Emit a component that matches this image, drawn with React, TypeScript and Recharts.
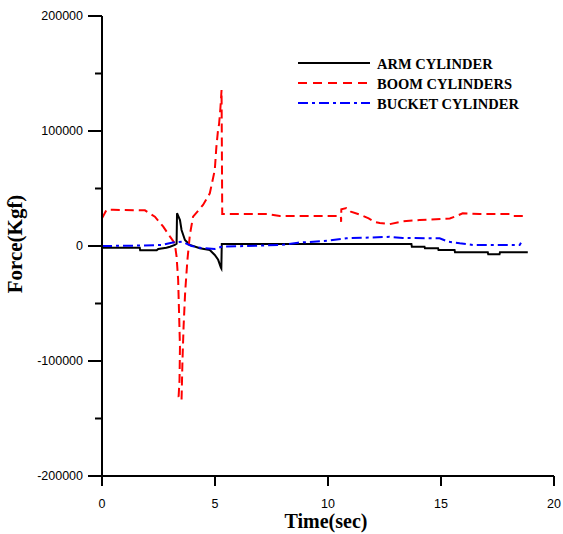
import { LineChart, Line, XAxis, YAxis, Legend } from "recharts";

// values (time in sec, force in kgf)
const armTime = [
  0, 1.67, 1.69, 2.42, 2.49, 2.85, 3.01, 3.22, 3.3, 3.32, 3.45, 3.52, 3.67,
  3.89, 4.33, 4.77, 4.99, 5.14, 5.26, 5.28, 5.3, 13.69, 13.71, 14.27, 14.29,
  14.87, 14.89, 15.6, 15.62, 17.07, 17.09, 17.59, 17.61, 18.84,
];
const armForce = [
  -1500, -1500, -3800, -3800, -2600, -1500, -600, 900, 2000, 28500, 22600,
  13900, 5200, 900, -2000, -3500, -7800, -12000, -18800, -19500, 1800, 1800,
  -600, -600, -2000, -2000, -3500, -3500, -5500, -5500, -7200, -7200, -5500,
  -5500,
];

const boomTime = [
  0, 0.2, 0.49, 1.9, 2.34, 2.71, 3.01, 3.22, 3.3, 3.37, 3.41, 3.45, 3.43,
  3.39, 3.52, 3.56, 3.61, 3.68, 3.78, 3.89, 4.03, 4.47, 4.77, 4.99, 5.06, 5.13,
  5.18, 5.24, 5.29, 5.32, 7.32, 7.87, 10.57, 10.58, 10.59, 10.82, 11.01, 11.45,
  11.8, 12.06, 12.29, 12.73, 13.32, 14.06, 15.39, 15.68, 15.96, 16.71, 18.03,
  18.17, 18.83,
];
const boomForce = [
  24000, 31500, 31500, 31000, 25500, 16800, 8100, 2300, -9300, -29600, -58300,
  -87600, -116500, -131000, -134000, -100000, -70000, -40000, -12000, 10000,
  25500, 35700, 45800, 66000, 86000, 100000, 106000, 120000, 135700, 27800,
  27800, 26000, 26000, 21000, 32000, 33000, 29800, 27000, 24000, 21000, 20000,
  19000, 21500, 22600, 24000, 26000, 28500, 27800, 27800, 26000, 26000,
];

const bucketTime = [
  0, 1.47, 2.63, 3.08, 3.54, 3.96, 4.4, 4.99, 5.29, 6.39, 7.94, 8.67, 10.0,
  10.82, 12.72, 13.31, 14.94, 15.31, 15.83, 16.42, 18.48, 18.54,
];
const bucketForce = [
  0, 300, 900, 2900, 3800, 0, -1700, -2600, -600, 0, 900, 2900, 4600, 6700,
  8000, 7000, 6700, 3800, 2300, 900, 900, 2900,
];

const xTicks = [0, 5, 10, 15, 20];
const yTicks = [-200000, -150000, -100000, -50000, 0, 50000, 100000, 150000, 200000];
const yLabelTicks = [-200000, -100000, 0, 100000, 200000];

const toPoints = (time: number[], force: number[]) =>
  time.map((t, i) => ({ t, f: force[i] }));

const series = [
  { name: "ARM CYLINDER", color: "#000000", dash: undefined, legendDash: undefined, data: toPoints(armTime, armForce) },
  { name: "BOOM CYLINDERS", color: "#ff0000", dash: "9 5", legendDash: "9 6", data: toPoints(boomTime, boomForce) },
  { name: "BUCKET CYLINDER", color: "#0000ff", dash: "10 4 3 4", legendDash: "10 4 3 4", data: toPoints(bucketTime, bucketForce) },
];

const SANS = "'Liberation Sans', Arial, sans-serif";
const SERIF = "'Liberation Serif', 'Times New Roman', serif";
const Y_TICK_SIZE = 14;
const Y_TICK_MARGIN = 5;

function YTick(props: any) {
  const { x, y, payload } = props;
  const major = yLabelTicks.includes(payload.value);
  const axisX = x + Y_TICK_SIZE + Y_TICK_MARGIN;
  return (
    <g>
      <line
        x1={axisX - (major ? Y_TICK_SIZE : 7)}
        x2={axisX}
        y1={y}
        y2={y}
        stroke="#000"
        strokeWidth={2}
      />
      {major && (
        <text x={x} y={y} dy="0.35em" textAnchor="end" fill="#000" fontSize={12.5} fontFamily={SANS}>
          {payload.value}
        </text>
      )}
    </g>
  );
}

function LegendBox() {
  return (
    <svg width={240} height={62}>
      {series.map((s, i) => (
        <g key={s.name}>
          <line x1={0} x2={72} y1={8 + i * 20} y2={8 + i * 20} stroke={s.color} strokeWidth={2} strokeDasharray={s.legendDash} />
          <text x={79} y={14 + i * 20} fontSize={14.5} fontWeight="bold" fontFamily={SERIF} fill="#000">
            {s.name}
          </text>
        </g>
      ))}
    </svg>
  );
}

export default function App() {
  return (
    <div style={{ position: "absolute", left: 0, top: 0, width: 563, height: 534, background: "#fff" }}>
      <LineChart width={563} height={534} margin={{ top: 16, right: 9, bottom: 0, left: 0 }}>
        <XAxis
          dataKey="t"
          type="number"
          domain={[0, 20]}
          ticks={xTicks}
          interval={0}
          height={58}
          axisLine={{ stroke: "#000", strokeWidth: 2 }}
          tickLine={{ stroke: "#000", strokeWidth: 2 }}
          tickSize={10}
          tickMargin={13}
          tick={{ fill: "#000", fontSize: 12.5, fontFamily: SANS }}
          label={({ viewBox }: any) => (
            <text
              x={viewBox.x + viewBox.width / 2 - 2}
              y={viewBox.y + 52}
              textAnchor="middle"
              fontSize={20}
              fontWeight="bold"
              fontFamily={SERIF}
              fill="#000"
            >
              Time(sec)
            </text>
          )}
        />
        <YAxis
          type="number"
          domain={[-200000, 200000]}
          ticks={yTicks}
          interval={0}
          width={102}
          axisLine={{ stroke: "#000", strokeWidth: 2 }}
          tickLine={false}
          tickSize={Y_TICK_SIZE}
          tickMargin={Y_TICK_MARGIN}
          tick={<YTick />}
          label={({ viewBox }: any) => {
            const cx = viewBox.x + 22;
            const cy = viewBox.y + viewBox.height / 2 - 2;
            return (
              <text
                x={cx}
                y={cy}
                transform={`rotate(-90, ${cx}, ${cy})`}
                textAnchor="middle"
                fontSize={21}
                fontWeight="bold"
                fontFamily={SERIF}
                fill="#000"
              >
                Force(Kgf)
              </text>
            );
          }}
        />
        <Legend
          layout="vertical"
          align="center"
          verticalAlign="middle"
          content={() => <LegendBox />}
          wrapperStyle={{ left: 298, top: 55, width: 240, height: 62 }}
        />
        {series.map((s) => (
          <Line
            key={s.name}
            data={s.data}
            dataKey="f"
            name={s.name}
            type="linear"
            stroke={s.color}
            strokeWidth={2}
            strokeDasharray={s.dash}
            dot={false}
            activeDot={false}
            isAnimationActive={false}
          />
        ))}
      </LineChart>
    </div>
  );
}
